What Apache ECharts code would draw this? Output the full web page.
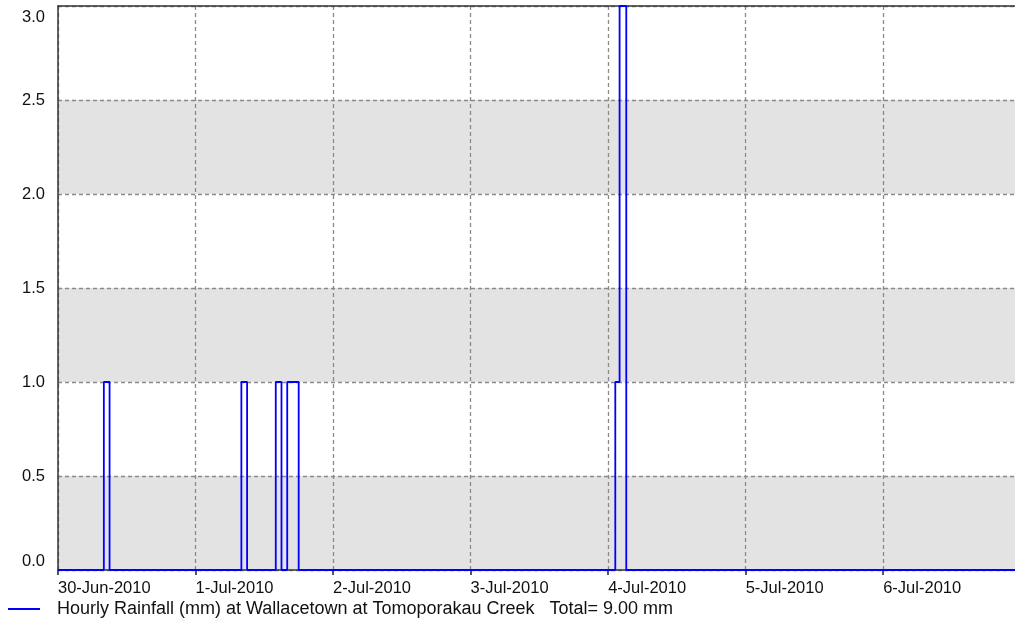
<!DOCTYPE html>
<html>
<head>
<meta charset="utf-8">
<script src="https://cdn.jsdelivr.net/npm/echarts@6/dist/echarts.min.js"></script>
<style>
  html, body { margin: 0; padding: 0; background: #ffffff; overflow: hidden; }
  #chart { width: 1015px; height: 619px; }
</style>
</head>
<body>
<div id="chart"></div>
<script>
// Rainfall readings (local time). Each value is the rain that fell since the
// previous reading, so the series is drawn as a step that changes at the start.
const seriesName = 'Hourly Rainfall (mm) at Wallacetown at Tomoporakau Creek';
const rainTimes = [
  '2010-06-30 00:00', '2010-06-30 08:00', '2010-06-30 09:00', '2010-06-30 10:00',
  '2010-07-01 08:00', '2010-07-01 09:00', '2010-07-01 10:00',
  '2010-07-01 14:00', '2010-07-01 15:00', '2010-07-01 16:00',
  '2010-07-01 17:00', '2010-07-01 18:00', '2010-07-01 19:00',
  '2010-07-04 01:15', '2010-07-04 02:00', '2010-07-04 03:10', '2010-07-04 04:00',
  '2010-07-06 23:00'
];
const rainMm = [
  0, 0, 1, 0,
  0, 1, 0,
  0, 1, 0,
  1, 1, 0,
  0, 1, 3, 0,
  0
];
const rangeStart = '2010-06-30 00:00';
const rangeEnd = '2010-07-06 23:00';
const yTicks = [0, 0.5, 1, 1.5, 2, 2.5, 3];
const monthNames = ['Jan','Feb','Mar','Apr','May','Jun','Jul','Aug','Sep','Oct','Nov','Dec'];

const DAY = 24 * 3600000;

function parseLocal(s) {
  const [d, t] = s.split(' ');
  const [y, m, dd] = d.split('-').map(Number);
  const [h, mi] = t.split(':').map(Number);
  return new Date(y, m - 1, dd, h, mi).getTime();
}

const startMs = parseLocal(rangeStart);
const endMs = parseLocal(rangeEnd);
const readings = rainTimes.map((t, i) => [parseLocal(t), rainMm[i]]);
const totalMm = rainMm.reduce((a, b) => a + b, 0);

const FONT = '"Liberation Sans", Arial, sans-serif';
const FS = 16.5;

function dayLabel(v) {
  const d = new Date(v);
  return d.getDate() + '-' + monthNames[d.getMonth()] + '-' + d.getFullYear();
}

const chart = echarts.init(document.getElementById('chart'), null, { renderer: 'canvas' });

chart.setOption({
  animation: false,
  backgroundColor: '#ffffff',
  grid: { left: 58, right: 0, top: 6, bottom: 49, containLabel: false },
  legend: {
    show: true,
    left: 3,
    top: 595,
    icon: 'rect',
    itemWidth: 32,
    itemHeight: 2,
    textStyle: { fontFamily: FONT, fontSize: 18, color: '#111111', padding: [0, 0, 0, 12] },
    formatter: name => name + '   Total= ' + totalMm.toFixed(2) + ' mm',
    data: [seriesName]
  },
  xAxis: [
    {
      type: 'value',
      min: startMs,
      max: endMs,
      interval: DAY,
      position: 'bottom',
      axisLine: { show: true, onZero: false, lineStyle: { color: '#333333', width: 1.5 } },
      axisTick: { show: true, length: 5, lineStyle: { color: '#222222', width: 1.5 } },
      axisLabel: {
        show: true,
        formatter: dayLabel,
        align: 'left',
        margin: 10,
        showMaxLabel: false,
        fontFamily: FONT,
        fontSize: FS,
        color: '#111111'
      },
      splitLine: {
        show: true,
        showMaxLine: false,
        lineStyle: { color: '#8a8a8a', width: 1.3, type: [4, 3] }
      }
    },
    {
      type: 'value',
      min: startMs,
      max: endMs,
      interval: DAY,
      position: 'top',
      axisLine: { show: true, onZero: false, lineStyle: { color: '#333333', width: 1.5 } },
      axisTick: { show: false },
      axisLabel: { show: false },
      splitLine: { show: false }
    }
  ],
  yAxis: {
    type: 'value',
    min: yTicks[0],
    max: yTicks[yTicks.length - 1],
    interval: 0.5,
    axisLine: { show: true, lineStyle: { color: '#333333', width: 1.5 } },
    axisTick: { show: false },
    axisLabel: {
      margin: 13,
      fontFamily: FONT,
      fontSize: FS,
      color: '#111111',
      formatter: v => {
        const s = v.toFixed(1);
        if (v === yTicks[yTicks.length - 1]) return '{top|' + s + '}';
        if (v === yTicks[0]) return '{bot|' + s + '}';
        return s;
      },
      rich: {
        top: { fontFamily: FONT, fontSize: FS, color: '#111111', padding: [22, 0, 0, 0] },
        bot: { fontFamily: FONT, fontSize: FS, color: '#111111', padding: [0, 0, 18, 0] }
      }
    },
    splitLine: { show: true, lineStyle: { color: '#8a8a8a', width: 1.3, type: [4, 3] } },
    splitArea: { show: true, areaStyle: { color: ['#e3e3e3', '#ffffff'] } }
  },
  series: [
    {
      name: seriesName,
      type: 'line',
      step: 'start',
      showSymbol: false,
      symbol: 'none',
      clip: true,
      color: '#0000ff',
      lineStyle: { color: '#0000ff', width: 1.8 },
      data: readings
    }
  ]
});
</script>
</body>
</html>
